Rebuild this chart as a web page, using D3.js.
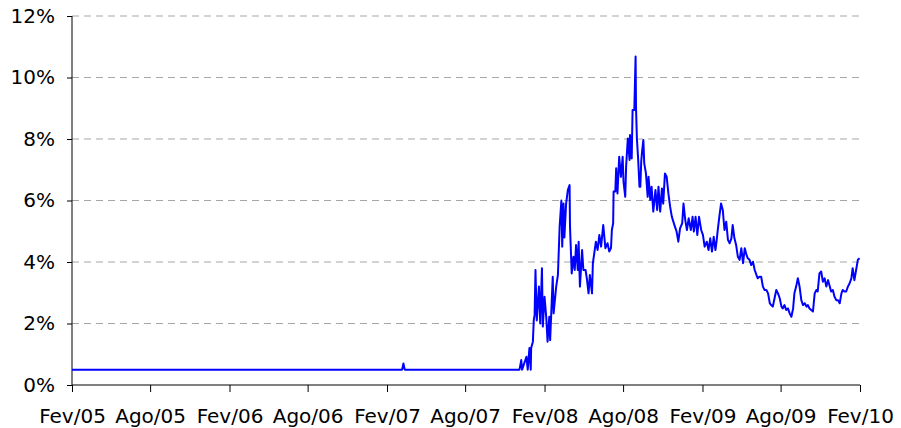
<!DOCTYPE html>
<html>
<head>
<meta charset="utf-8">
<script src="https://cdn.jsdelivr.net/npm/d3@7"></script>
<style>
  body { margin: 0; background: #fff; }
  svg { display: block; font-family: "DejaVu Sans", Verdana, sans-serif; }
</style>
</head>
<body>
<svg width="901" height="428"></svg>
<script>
// dates and rates (%)
var dates = [
  "2005-02-01", "2007-03-08", "2007-03-11", "2007-03-14", "2007-12-05",
  "2007-12-09", "2007-12-11", "2007-12-21", "2007-12-24", "2007-12-28", "2007-12-31",
  "2008-01-01", "2008-01-05", "2008-01-07", "2008-01-09", "2008-01-11", "2008-01-14",
  "2008-01-19", "2008-01-22", "2008-01-26", "2008-01-28", "2008-02-01", "2008-02-05",
  "2008-02-08", "2008-02-12", "2008-02-14", "2008-02-20", "2008-02-22", "2008-02-28",
  "2008-03-03", "2008-03-07", "2008-03-11", "2008-03-13", "2008-03-16", "2008-03-18",
  "2008-03-22", "2008-03-26", "2008-03-30", "2008-03-31", "2008-04-04", "2008-04-08",
  "2008-04-11", "2008-04-14", "2008-04-18", "2008-04-20", "2008-04-23", "2008-04-28",
  "2008-05-01", "2008-05-06", "2008-05-09", "2008-05-13", "2008-05-16", "2008-05-21",
  "2008-05-23", "2008-05-30", "2008-06-03", "2008-06-07", "2008-06-11", "2008-06-16",
  "2008-06-21", "2008-06-26", "2008-06-30", "2008-07-04", "2008-07-06", "2008-07-09",
  "2008-07-10", "2008-07-14", "2008-07-16", "2008-07-19", "2008-07-23", "2008-07-27",
  "2008-07-31", "2008-08-02", "2008-08-06", "2008-08-08", "2008-08-12", "2008-08-16",
  "2008-08-17", "2008-08-21", "2008-08-23", "2008-08-27", "2008-08-30", "2008-08-31",
  "2008-09-02", "2008-09-05", "2008-09-08", "2008-09-10", "2008-09-12", "2008-09-14",
  "2008-09-17", "2008-09-19", "2008-09-23", "2008-09-27", "2008-09-29", "2008-10-03",
  "2008-10-06", "2008-10-10", "2008-10-15", "2008-10-19", "2008-10-22", "2008-10-26",
  "2008-10-30", "2008-11-02", "2008-11-06", "2008-11-10", "2008-11-14", "2008-11-18",
  "2008-11-22", "2008-11-28", "2008-12-03", "2008-12-07", "2008-12-11", "2008-12-16",
  "2008-12-19", "2008-12-23", "2008-12-27", "2008-12-31",
  "2009-01-05", "2009-01-09", "2009-01-12", "2009-01-16", "2009-01-20", "2009-01-24",
  "2009-01-29", "2009-02-02", "2009-02-06", "2009-02-11", "2009-02-15", "2009-02-19",
  "2009-02-23", "2009-02-27", "2009-03-03", "2009-03-06", "2009-03-08", "2009-03-12",
  "2009-03-16", "2009-03-20", "2009-03-24", "2009-03-28", "2009-04-01", "2009-04-05",
  "2009-04-09", "2009-04-12", "2009-04-16", "2009-04-20", "2009-04-24", "2009-04-28",
  "2009-05-02", "2009-05-06", "2009-05-10", "2009-05-14", "2009-05-17", "2009-05-21",
  "2009-05-25", "2009-05-29", "2009-06-02", "2009-06-06", "2009-06-09", "2009-06-13",
  "2009-06-17", "2009-06-21", "2009-06-25", "2009-06-29", "2009-07-03", "2009-07-07",
  "2009-07-10", "2009-07-14", "2009-07-18", "2009-07-22", "2009-07-26", "2009-07-30",
  "2009-08-03", "2009-08-06", "2009-08-10", "2009-08-14", "2009-08-18", "2009-08-22",
  "2009-08-26", "2009-08-30", "2009-09-02", "2009-09-06", "2009-09-10", "2009-09-14",
  "2009-09-18", "2009-09-22", "2009-09-26", "2009-09-30", "2009-10-03", "2009-10-07",
  "2009-10-11", "2009-10-15", "2009-10-19", "2009-10-23", "2009-10-26", "2009-10-30",
  "2009-11-03", "2009-11-07", "2009-11-11", "2009-11-15", "2009-11-19", "2009-11-23",
  "2009-11-26", "2009-11-30", "2009-12-04", "2009-12-08", "2009-12-12", "2009-12-16",
  "2009-12-20", "2009-12-23", "2009-12-27", "2009-12-31",
  "2010-01-04", "2010-01-08", "2010-01-12", "2010-01-15", "2010-01-19", "2010-01-23",
  "2010-01-27", "2010-01-31"
];
var rates = [
  0.50, 0.50, 0.70, 0.50, 0.50,
  0.81, 0.50, 0.92, 0.50, 1.20, 0.50,
  1.20, 1.41, 2.10, 2.28, 3.74, 2.10,
  3.20, 2.00, 3.80, 1.90, 2.87, 2.20,
  1.41, 2.22, 1.46, 3.52, 2.33, 3.20,
  3.58, 5.15, 6.00, 4.50, 5.90, 4.80,
  5.90, 6.34, 6.50, 5.15, 3.63, 4.17,
  3.74, 4.55, 3.74, 4.66, 3.20, 4.39,
  3.74, 3.74, 3.47, 2.98, 3.58, 2.98,
  3.96, 4.66, 4.39, 4.88, 4.50, 5.20,
  4.45, 4.61, 4.34, 4.45, 5.04, 5.26,
  6.29, 6.29, 7.05, 6.23, 7.42, 6.77,
  7.42, 6.61, 6.12, 7.10, 8.02, 7.32,
  8.13, 7.37, 8.94, 8.94, 10.68, 9.00,
  8.02, 7.32, 6.45, 6.45, 7.26, 7.59,
  7.97, 7.21, 6.88, 6.12, 6.77, 6.02,
  6.45, 5.64, 6.34, 5.69, 6.45, 5.64,
  6.39, 5.90, 6.88, 6.77, 6.23, 5.80,
  5.47, 5.20, 4.99, 4.66, 5.09, 5.26,
  5.90, 5.37, 5.04, 5.42,
  5.04, 5.47, 4.99, 5.47, 4.88, 5.47,
  5.04, 4.88, 4.50, 4.66, 4.39, 4.77,
  4.34, 4.82, 4.39, 4.72, 4.99, 5.47,
  5.90, 5.69, 5.04, 5.31, 4.72, 4.61,
  4.77, 5.20, 4.77, 4.55, 4.17, 4.07,
  4.45, 3.96, 4.45, 4.23, 4.12, 4.07,
  3.90, 4.01, 3.74, 3.58, 3.47, 3.52,
  3.52, 3.20, 3.09, 3.09, 2.98, 2.66,
  2.60, 2.55, 2.82, 3.09, 2.98, 2.82,
  2.55, 2.49, 2.60, 2.44, 2.49, 2.33,
  2.22, 2.49, 2.98, 3.20, 3.47, 3.20,
  2.76, 2.60, 2.66, 2.55, 2.60, 2.49,
  2.44, 2.39, 2.98, 3.09, 3.04, 3.63,
  3.69, 3.36, 3.47, 3.20, 3.41, 3.20,
  3.04, 3.09, 2.87, 2.76, 2.76, 2.66,
  2.98, 3.09, 3.04, 3.04,
  3.20, 3.31, 3.47, 3.80, 3.41, 3.74,
  4.07, 4.12
];
var yTicks = [0, 2, 4, 6, 8, 10, 12];
var xTickDates = [
  "2005-02-01", "2005-08-01", "2006-02-01", "2006-08-01", "2007-02-01", "2007-08-01",
  "2008-02-01", "2008-08-01", "2009-02-01", "2009-08-01", "2010-02-01"
];
var xTickLabels = [
  "Fev/05", "Ago/05", "Fev/06", "Ago/06", "Fev/07", "Ago/07",
  "Fev/08", "Ago/08", "Fev/09", "Ago/09", "Fev/10"
];

var svg = d3.select("svg");
var parse = d3.timeParse("%Y-%m-%d");

var data = dates.map(function (d, i) { return { date: parse(d), value: rates[i] }; });
var tickDates = xTickDates.map(parse);

var x = d3.scaleTime()
    .domain([tickDates[0], tickDates[tickDates.length - 1]])
    .range([72, 860]);

var y = d3.scaleLinear()
    .domain([0, 12])
    .range([385, 16]);

// dashed gridlines
svg.append("g")
    .selectAll("line")
    .data(yTicks.slice(1))
    .enter().append("line")
    .attr("x1", 72)
    .attr("x2", 860)
    .attr("y1", function (d) { return y(d); })
    .attr("y2", function (d) { return y(d); })
    .attr("stroke", "#a6a6a6")
    .attr("stroke-width", 1)
    .attr("stroke-dasharray", "7,5");

var yAxis = svg.append("g")
    .attr("transform", "translate(72,0)")
    .call(d3.axisLeft(y)
        .tickValues(yTicks)
        .tickSize(5)
        .tickPadding(12)
        .tickFormat(function (d) { return d + "%"; }));

var xAxis = svg.append("g")
    .attr("transform", "translate(0,385)")
    .call(d3.axisBottom(x)
        .tickValues(tickDates)
        .tickSize(7)
        .tickFormat(function (d, i) { return xTickLabels[i]; }));

xAxis.selectAll("text").attr("y", 38).attr("dy", 0);

[yAxis, xAxis].forEach(function (g) {
    g.selectAll("text")
        .attr("fill", "#000")
        .style("font-family", "'DejaVu Sans', Verdana, sans-serif")
        .style("font-size", "20px");
    g.selectAll("line").attr("stroke", "#000");
    g.select(".domain").attr("stroke", "#000");
});
xAxis.select(".domain").attr("d", "M72,0H860");
yAxis.select(".domain").attr("d", "M0,16V385");

var line = d3.line()
    .x(function (d) { return x(d.date); })
    .y(function (d) { return y(d.value); });

svg.append("path")
    .datum(data)
    .attr("fill", "none")
    .attr("stroke", "#0000ff")
    .attr("stroke-width", 2)
    .attr("stroke-linejoin", "round")
    .attr("d", line);
</script>
</body>
</html>
